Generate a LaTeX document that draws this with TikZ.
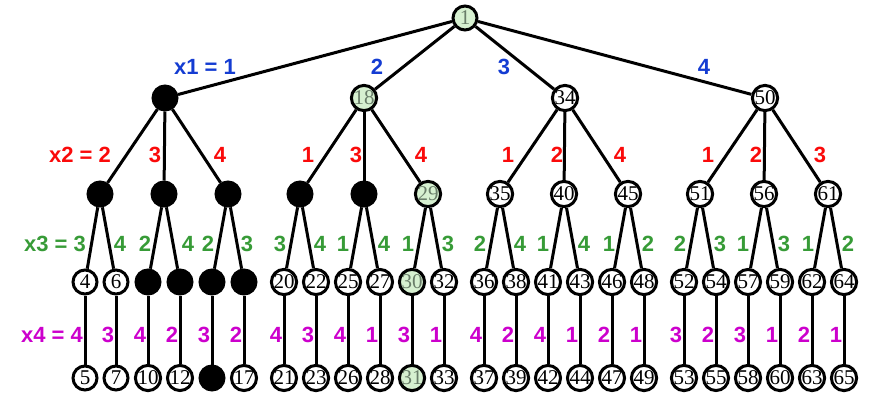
\documentclass[tikz,border=0pt]{standalone}
\usepackage{fontspec}
\setmainfont{Liberation Serif}
\newfontfamily\labfont{Liberation Sans}
\definecolor{lgreen}{RGB}{214,240,208}
\definecolor{gtext}{RGB}{105,125,105}
\definecolor{cblue}{RGB}{20,60,210}
\definecolor{cred}{RGB}{250,10,10}
\definecolor{cgreen}{RGB}{55,155,55}
\definecolor{cmag}{RGB}{204,0,204}
\begin{document}
\begin{tikzpicture}[x=1pt,y=-1pt,
  nd/.style={circle,draw,line width=3pt,minimum size=24pt,inner sep=0pt,fill=white,font=\fontsize{21}{21}\selectfont},
  blk/.style={nd,fill=black},
  grn/.style={nd,fill=lgreen,text=gtext},
  edge/.style={line width=3pt},
  lb/.style={font=\labfont\bfseries\fontsize{22}{22}\selectfont,inner sep=0pt},
  la/.style={lb,text=cblue},
  lbb/.style={lb,text=cred},
  lc/.style={lb,text=cgreen},
  ld/.style={lb,text=cmag}]
\useasboundingbox (0,0) rectangle (872,404);
% root and level 1
\node[grn] (r) at (465,18) {1};
\node[blk] (a) at (165,98) {};
\node[grn] (b) at (364,98) {18};
\node[nd] (c) at (565,98) {34};
\node[nd] (d) at (765,98) {50};
% level 2
\node[blk] (a1) at (100,194) {};
\node[blk] (a2) at (164,194) {};
\node[blk] (a3) at (228,194) {};
\node[blk] (b1) at (300,194) {};
\node[blk] (b2) at (364,194) {};
\node[grn] (b3) at (428,194) {29};
\node[nd] (c1) at (500,194) {35};
\node[nd] (c2) at (564,194) {40};
\node[nd] (c3) at (628,194) {45};
\node[nd] (d1) at (700,194) {51};
\node[nd] (d2) at (764,194) {56};
\node[nd] (d3) at (828,194) {61};
% level 3
\foreach \x/\t/\s in {85/4/nd,116/6/nd,148//blk,180//blk,212//blk,244//blk,
  284/20/nd,316/22/nd,348/25/nd,380/27/nd,412/30/grn,444/32/nd,
  484/36/nd,516/38/nd,548/41/nd,580/43/nd,612/46/nd,644/48/nd,
  684/52/nd,716/54/nd,748/57/nd,780/59/nd,812/62/nd,844/64/nd}
  \node[\s] (n\x) at (\x,282) {\t};
% level 4
\foreach \x/\t/\s in {85/5/nd,116/7/nd,148/10/nd,180/12/nd,212//blk,244/17/nd,
  284/21/nd,316/23/nd,348/26/nd,380/28/nd,412/31/grn,444/33/nd,
  484/37/nd,516/39/nd,548/42/nd,580/44/nd,612/47/nd,644/49/nd,
  684/53/nd,716/55/nd,748/58/nd,780/60/nd,812/63/nd,844/65/nd}
  \node[\s] (m\x) at (\x,378) {\t};
% edges
\foreach \p in {a,b,c,d} \draw[edge] (r) -- (\p);
\foreach \p in {a,b,c,d} \foreach \k in {1,2,3} \draw[edge] (\p) -- (\p\k);
\foreach \p/\l/\r in {a1/85/116,a2/148/180,a3/212/244,b1/284/316,b2/348/380,b3/412/444,
  c1/484/516,c2/548/580,c3/612/644,d1/684/716,d2/748/780,d3/812/844}
  {\draw[edge] (\p) -- (n\l); \draw[edge] (\p) -- (n\r);}
\foreach \x in {85,116,148,180,212,244,284,316,348,380,412,444,484,516,548,580,612,644,684,716,748,780,812,844}
  \draw[edge] (n\x) -- (m\x);
% level 1 labels
\node[la,anchor=east] (t1) at (236,67) {x1 = 1};
\node[la] (t2) at (377,67) {2};
\node[la] (t3) at (504,67) {3};
\node[la] (t4) at (704,67) {4};
% level 2 labels
\node[lbb,anchor=east] (u1) at (111,155) {x2 = 2};
\foreach \x/\t [count=\i] in {155/3,220/4,308/1,356/3,421/4,508/1,557/2,620/4,708/1,756/2,820/3}
  \node[lbb] (u\i x) at (\x,155) {\t};
% level 3 labels
\node[lc,anchor=east] (v1) at (86,244) {x3 = 3};
\foreach \x/\t [count=\i] in {120/4,145/2,188/4,208/2,247/3,280/3,320/4,343/1,384/4,408/1,448/3,
  480/2,520/4,543/1,584/4,609/1,648/2,680/2,720/3,743/1,784/3,808/1,848/2}
  \node[lc] (v\i x) at (\x,244) {\t};
% level 4 labels
\node[ld,anchor=east] (w1) at (83,335) {x4 = 4};
\foreach \x/\t [count=\i] in {108/3,140/4,172/2,204/3,236/2,276/4,308/3,340/4,372/1,404/3,436/1,
  476/4,508/2,540/4,572/1,604/2,636/1,676/3,708/2,740/3,772/1,804/2,836/1}
  \node[ld] (w\i x) at (\x,335) {\t};
\end{tikzpicture}
\end{document}
